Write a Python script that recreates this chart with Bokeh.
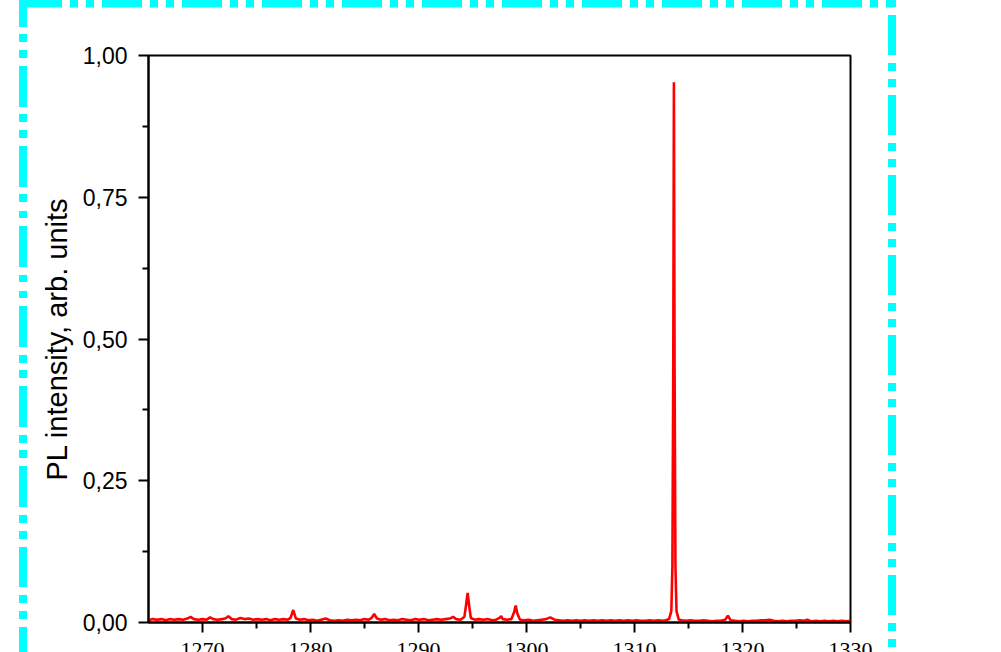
from bokeh.plotting import figure
from bokeh.models import FixedTicker, Range1d
from bokeh.embed import file_html
from bokeh.resources import INLINE

# ---- data ----
wavelength_nm = [
    1265.0, 1265.4, 1265.8, 1266.2, 1266.6, 1267.0, 1267.4, 1267.8, 1268.2, 1268.6,
    1268.9, 1269.2, 1269.6, 1270.0, 1270.4, 1270.7, 1271.0, 1271.4, 1271.8, 1272.1,
    1272.4, 1272.7, 1273.1, 1273.5, 1273.9, 1274.3, 1274.7, 1275.1, 1275.5, 1275.9,
    1276.3, 1276.7, 1277.1, 1277.5, 1277.9, 1278.15, 1278.4, 1278.65, 1279.0, 1279.4,
    1279.8, 1280.2, 1280.6, 1281.0, 1281.4, 1281.8, 1282.2, 1282.6, 1283.0, 1283.4,
    1283.8, 1284.2, 1284.6, 1285.0, 1285.4, 1285.65, 1285.9, 1286.15, 1286.5, 1286.9,
    1287.3, 1287.7, 1288.1, 1288.5, 1288.9, 1289.3, 1289.7, 1290.1, 1290.5, 1290.9,
    1291.3, 1291.7, 1292.1, 1292.5, 1292.9, 1293.2, 1293.5, 1293.9, 1294.25, 1294.4,
    1294.55, 1294.7, 1294.85, 1295.2, 1295.6, 1296.0, 1296.4, 1296.8, 1297.2, 1297.5,
    1297.65, 1297.8, 1298.2, 1298.6, 1298.85, 1299.0, 1299.15, 1299.4, 1299.8, 1300.2,
    1300.6, 1301.0, 1301.4, 1301.8, 1302.2, 1302.6, 1303.0, 1303.4, 1303.8, 1304.2,
    1304.6, 1305.0, 1305.4, 1305.8, 1306.2, 1306.6, 1307.0, 1307.4, 1307.8, 1308.2,
    1308.6, 1309.0, 1309.4, 1309.8, 1310.2, 1310.6, 1311.0, 1311.4, 1311.8, 1312.2,
    1312.6, 1312.9, 1313.2, 1313.41, 1313.51, 1313.59, 1313.65, 1313.71, 1313.79, 1313.89,
    1314.1, 1314.4, 1314.8, 1315.2, 1315.6, 1316.0, 1316.4, 1316.8, 1317.2, 1317.6,
    1318.0, 1318.4, 1318.65, 1318.9, 1319.3, 1319.7, 1320.1, 1320.5, 1320.9, 1321.3,
    1321.7, 1322.1, 1322.5, 1322.9, 1323.3, 1323.7, 1324.1, 1324.5, 1324.9, 1325.3,
    1325.7, 1326.0, 1326.4, 1326.8, 1327.2, 1327.6, 1328.0, 1328.4, 1328.8, 1329.2,
    1329.6, 1330.0,
]
pl_intensity = [
    0.004, 0.006, 0.005, 0.006, 0.004, 0.006, 0.005, 0.006, 0.005, 0.007,
    0.010, 0.006, 0.005, 0.006, 0.005, 0.009, 0.006, 0.005, 0.006, 0.007,
    0.011, 0.006, 0.005, 0.008, 0.006, 0.007, 0.005, 0.006, 0.005, 0.006,
    0.004, 0.006, 0.005, 0.006, 0.005, 0.008, 0.022, 0.007, 0.005, 0.006,
    0.004, 0.005, 0.003, 0.005, 0.007, 0.004, 0.003, 0.004, 0.003, 0.005,
    0.004, 0.005, 0.004, 0.006, 0.005, 0.008, 0.015, 0.007, 0.005, 0.006,
    0.004, 0.005, 0.004, 0.006, 0.005, 0.004, 0.006, 0.005, 0.006, 0.004,
    0.005, 0.006, 0.005, 0.006, 0.007, 0.010, 0.006, 0.005, 0.010, 0.030,
    0.052, 0.028, 0.008, 0.005, 0.006, 0.005, 0.006, 0.004, 0.005, 0.008,
    0.011, 0.006, 0.005, 0.006, 0.018, 0.030, 0.016, 0.005, 0.004, 0.005,
    0.003, 0.004, 0.005, 0.006, 0.009, 0.005, 0.004, 0.003, 0.004, 0.003,
    0.004, 0.003, 0.004, 0.003, 0.004, 0.003, 0.004, 0.003, 0.004, 0.003,
    0.004, 0.003, 0.004, 0.003, 0.004, 0.003, 0.003, 0.004, 0.003, 0.004,
    0.003, 0.004, 0.006, 0.020, 0.100, 0.450, 0.953, 0.450, 0.100, 0.020,
    0.005, 0.004, 0.003, 0.004, 0.003, 0.003, 0.004, 0.003, 0.002, 0.003,
    0.003, 0.005, 0.012, 0.004, 0.003, 0.002, 0.003, 0.002, 0.003, 0.003,
    0.004, 0.004, 0.005, 0.003, 0.002, 0.003, 0.002, 0.003, 0.003, 0.004,
    0.003, 0.005, 0.002, 0.003, 0.002, 0.003, 0.002, 0.003, 0.002, 0.003,
    0.002, 0.003,
]
x_ticks = [1270, 1280, 1290, 1300, 1310, 1320, 1330]
x_minor_ticks = [1275, 1285, 1295, 1305, 1315, 1325]
y_ticks = [0.0, 0.25, 0.5, 0.75, 1.0]
y_tick_labels = ["0,00", "0,25", "0,50", "0,75", "1,00"]
y_minor_ticks = [0.125, 0.375, 0.625, 0.875]
y_title = "PL intensity, arb. units"

SANS = "Liberation Sans"
SERIF = "Liberation Serif"
CYAN = "#00ffff"

# decorative cyan dash-dot-dot frame (CSS background behind the transparent border area)
top_line = ("repeating-linear-gradient(to right, {c} 4px 44px, transparent 44px 52px, "
            "{c} 52px 60px, transparent 60px 68px, {c} 68px 76px, transparent 76px 84px)").format(c=CYAN)
right_line = ("repeating-linear-gradient(to bottom, {c} -65px -25px, transparent -25px -17px, "
              "{c} -17px -9px, transparent -9px -1px, {c} -1px 7px, transparent 7px 15px)").format(c=CYAN)
left_line = ("repeating-linear-gradient(to bottom, {c} -13.5px 26.5px, transparent 26.5px 34.5px, "
             "{c} 34.5px 42.5px, transparent 42.5px 50.5px, {c} 50.5px 58.5px, transparent 58.5px 66.5px)").format(c=CYAN)

page_styles = {
    "position": "fixed",
    "top": "0px",
    "left": "0px",
    "background-color": "white",
    "background-image": ", ".join([top_line, right_line, left_line]),
    "background-size": "878px 7.5px, 8px 720px, 8px 720px",
    "background-position": "18px 0px, 888px 0px, 18.5px 0px",
    "background-repeat": "no-repeat, no-repeat, no-repeat",
}

p = figure(
    frame_width=702, frame_height=567,
    x_range=Range1d(1265, 1330), y_range=Range1d(0, 1),
    output_backend="svg", toolbar_location=None,
    min_border_left=148, min_border_right=151,
    min_border_top=55, min_border_bottom=0,
    background_fill_color="white", border_fill_color=None,
    styles=page_styles,
)
p.xgrid.visible = False
p.ygrid.visible = False
p.outline_line_color = "black"
p.outline_line_width = 2
p.outline_line_alpha = 1.0

p.line(wavelength_nm, pl_intensity, line_color="#FF0000", line_width=2.6)

xa = p.xaxis[0]
xa.ticker = FixedTicker(ticks=x_ticks, minor_ticks=x_minor_ticks)
xa.axis_line_width = 2
xa.major_tick_line_width = 2
xa.minor_tick_line_width = 2
xa.major_tick_out = 10
xa.major_tick_in = 0
xa.minor_tick_out = 6
xa.minor_tick_in = 0
xa.major_label_text_font = SERIF
xa.major_label_text_font_size = "22px"
xa.major_label_text_color = "black"
xa.major_label_standoff = 10

ya = p.yaxis[0]
ya.ticker = FixedTicker(ticks=y_ticks, minor_ticks=y_minor_ticks)
ya.major_label_overrides = {t: s for t, s in zip(y_ticks, y_tick_labels)}
ya.axis_line_width = 2
ya.major_tick_line_width = 2
ya.minor_tick_line_width = 2
ya.major_tick_out = 10
ya.major_tick_in = 0
ya.minor_tick_out = 6
ya.minor_tick_in = 0
ya.major_label_text_font = SANS
ya.major_label_text_font_size = "23px"
ya.major_label_text_color = "black"
ya.major_label_standoff = 11
ya.axis_label = y_title
ya.axis_label_text_font = SANS
ya.axis_label_text_font_size = "29px"
ya.axis_label_text_font_style = "normal"
ya.axis_label_text_color = "black"
ya.axis_label_standoff = 7

open("out.html", "w").write(file_html(p, INLINE))
